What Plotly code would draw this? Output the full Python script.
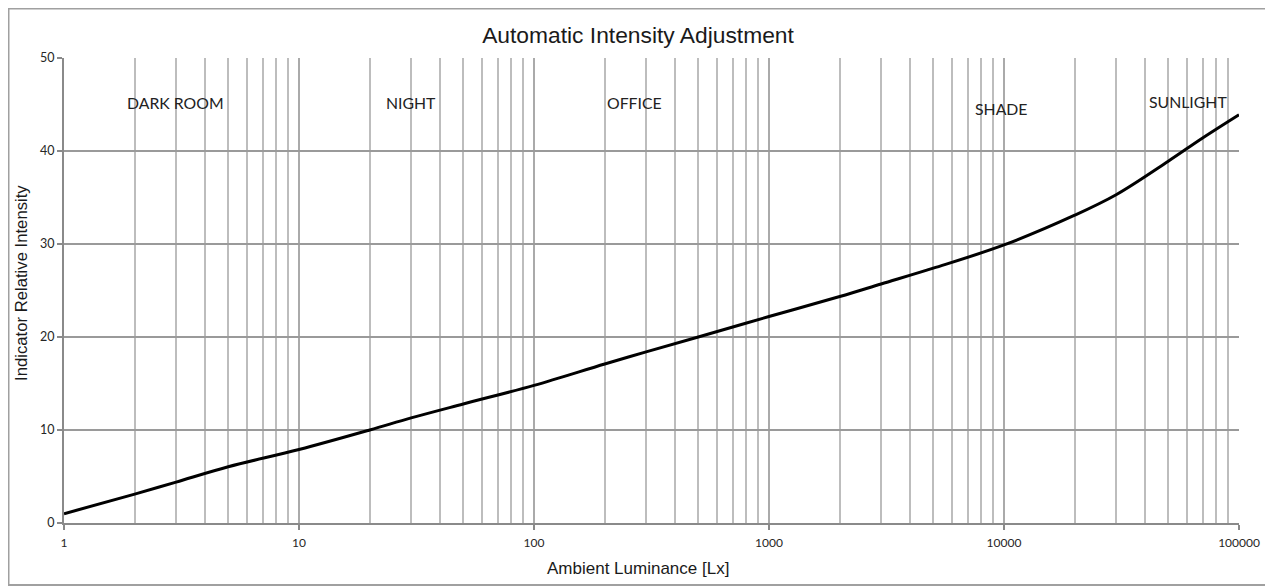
import numpy as np
import plotly.graph_objects as go

# ---- data ----
lux = [1, 2, 3, 5, 10, 20, 30, 50, 100, 200, 300, 500, 1000,
       2000, 3000, 5000, 10000, 20000, 30000, 50000, 70000, 100000]
intensity = [1.0, 3.1, 4.4, 6.05, 7.9, 10.0, 11.3, 12.8, 14.8, 17.1,
             18.4, 20.0, 22.2, 24.35, 25.7, 27.4, 29.9, 33.1,
             35.3, 38.9, 41.4, 43.9]

zone_labels = ["DARK ROOM", "NIGHT", "OFFICE", "SHADE", "SUNLIGHT"]
zone_x = [2.97, 30, 267, 9750, 60700]
zone_y = [45.2, 45.2, 45.2, 44.6, 45.3]

x_major_ticks = [1, 10, 100, 1000, 10000, 100000]
x_tick_text = ["1", "10", "100", "1000", "10000", "100000"]
x_minor_ticks = [k * 10 ** d for d in range(5) for k in range(2, 10)]
y_ticks = [0, 10, 20, 30, 40, 50]

# the page body adds an 8px offset; figure coordinates = screenshot - 8
OFF = 8
W, H = 1273 - OFF, 586 - OFF
ML, MT = 64 - OFF, 58 - OFF
MR = W - (1239 - OFF)
MB = H - (523 - OFF)
pw, ph = W - ML - MR, H - MT - MB


def px_x(p):
    return (p - OFF - ML) / pw


def px_y(p):
    return (MT + ph - (p - OFF)) / ph


fig = go.Figure()
fig.add_trace(go.Scatter(
    x=lux, y=intensity, mode="lines",
    line=dict(color="#000000", width=3, shape="spline", smoothing=1.0),
    showlegend=False, hoverinfo="skip",
))

annos = []
for t, xv, yv in zip(zone_labels, zone_x, zone_y):
    annos.append(dict(x=np.log10(xv), y=yv, xref="x", yref="y", text=t,
                      showarrow=False, xanchor="center", yanchor="middle",
                      font=dict(family="Lato", size=15.8, color="#222222")))

annos.append(dict(x=px_x(638), y=px_y(568), xref="paper", yref="paper",
                  text="Ambient Luminance [Lx]", showarrow=False,
                  xanchor="center", yanchor="middle",
                  font=dict(family="Liberation Sans", size=17, color="#1a1a1a")))
annos.append(dict(x=px_x(21), y=px_y(283), xref="paper", yref="paper",
                  text="Indicator Relative Intensity", showarrow=False, textangle=-90,
                  xanchor="center", yanchor="middle",
                  font=dict(family="Liberation Sans", size=16.7, color="#1a1a1a")))

shapes = [dict(type="rect", xref="paper", yref="paper",
               x0=(0.5 - ML) / pw, x1=(1263 - ML) / pw,
               y0=(MT + ph - 577) / ph, y1=(MT + ph - 0.5) / ph,
               line=dict(color="#a0a0a0", width=2), fillcolor="rgba(0,0,0,0)",
               layer="below")]

fig.update_layout(
    width=W, height=H,
    margin=dict(l=ML, r=MR, t=MT, b=MB),
    paper_bgcolor="white", plot_bgcolor="white",
    title=dict(text="Automatic Intensity Adjustment", x=(638 - OFF) / W, xanchor="center",
               y=1 - (35 - OFF) / H, yanchor="middle",
               font=dict(family="Liberation Sans", size=22.8, color="#1a1a1a")),
    annotations=annos,
    shapes=shapes,
    xaxis=dict(
        type="log", range=[0, 5],
        tickmode="array", tickvals=x_major_ticks, ticktext=x_tick_text,
        ticks="outside", ticklen=5, tickcolor="#8a8a8a", tickwidth=1.5,
        ticklabelstandoff=3,
        showgrid=True, gridcolor="#aaaaaa", gridwidth=1.5,
        showline=True, linecolor="#8a8a8a", linewidth=2,
        tickfont=dict(family="Lato", size=12, color="#262626"),
        minor=dict(tickmode="array", tickvals=x_minor_ticks, showgrid=True,
                   gridcolor="#bdbdbd", gridwidth=1.5, ticks=""),
        zeroline=False, fixedrange=True,
    ),
    yaxis=dict(
        range=[0, 50], tickmode="array", tickvals=y_ticks,
        ticks="outside", ticklen=5, tickcolor="#8a8a8a", tickwidth=1.5,
        showgrid=True, gridcolor="#9a9a9a", gridwidth=2,
        showline=True, linecolor="#8a8a8a", linewidth=2,
        tickfont=dict(family="Lato", size=12.5, color="#262626"),
        zeroline=False, fixedrange=True,
    ),
)

fig.write_html("out.html")
